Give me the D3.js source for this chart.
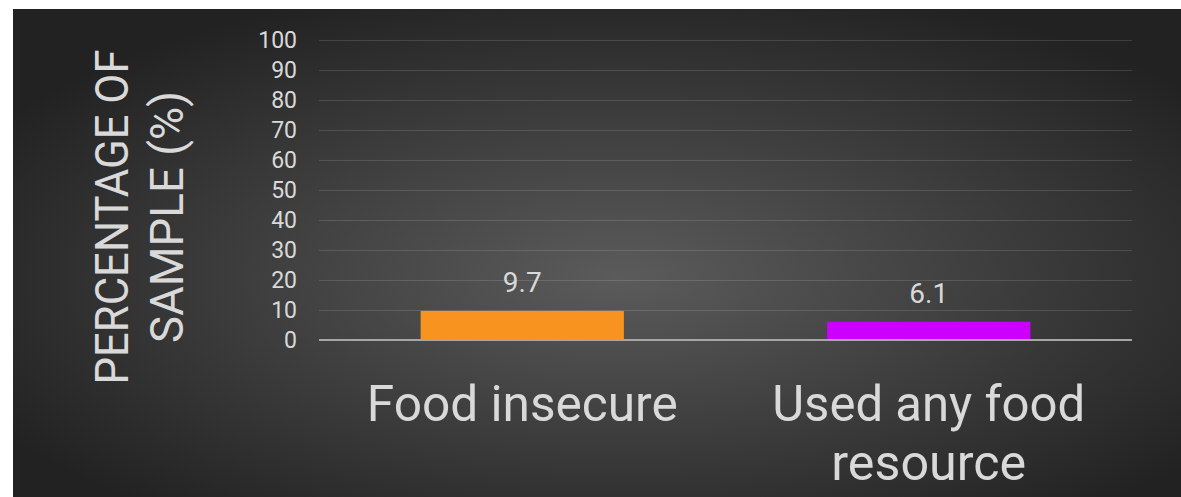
<!DOCTYPE html>
<html>
<head>
<meta charset="utf-8">
<script src="https://cdn.jsdelivr.net/npm/d3@7"></script>
<style>
  html, body { margin: 0; padding: 0; background: #ffffff; }
  svg { display: block; font-family: Roboto, "Open Sans", sans-serif; }
</style>
</head>
<body>
<div id="chart"></div>
<script>
// chart data
const categories = ["Food insecure", "Used any food resource"];
const categoryLines = [["Food insecure"], ["Used any food", "resource"]];
const values = [9.7, 6.1];
const barColors = ["#f7931e", "#cc00ff"];
const yTicks = [0, 10, 20, 30, 40, 50, 60, 70, 80, 90, 100];
const yTitleLines = ["PERCENTAGE OF", "SAMPLE (%)"];

const W = 1181, H = 497;
const textColor = "#d9d9d9";

const svg = d3.select("#chart").append("svg")
    .attr("width", W)
    .attr("height", H);

// background panel with radial gradient
const defs = svg.append("defs");
const grad = defs.append("radialGradient")
    .attr("id", "bg")
    .attr("cx", "52%").attr("cy", "55%")
    .attr("r", "62%");
grad.append("stop").attr("offset", "0%").attr("stop-color", "#5b5b5b");
grad.append("stop").attr("offset", "100%").attr("stop-color", "#222222");

svg.append("rect")
    .attr("x", 13).attr("y", 9)
    .attr("width", W - 13).attr("height", H - 9)
    .attr("fill", "url(#bg)");

const margin = {left: 319, right: 49, top: 40, bottom: 157};

const x = d3.scaleBand()
    .domain(categories)
    .range([margin.left, W - margin.right])
    .paddingInner(0.5)
    .paddingOuter(0.25);

const y = d3.scaleLinear()
    .domain([0, 100])
    .range([H - margin.bottom, margin.top]);

// gridlines
svg.append("g")
  .selectAll("line")
  .data(yTicks.filter(d => d > 0))
  .join("line")
    .attr("x1", margin.left)
    .attr("x2", W - margin.right)
    .attr("y1", d => y(d) + 0.5)
    .attr("y2", d => y(d) + 0.5)
    .attr("stroke", "#ffffff")
    .attr("stroke-opacity", 0.13)
    .attr("stroke-width", 1.2);

// y axis tick labels
const yAxis = svg.append("g")
    .attr("transform", `translate(${margin.left},0)`)
    .call(d3.axisLeft(y).tickValues(yTicks).tickSize(0).tickPadding(22));
yAxis.select(".domain").remove();
yAxis.selectAll("text")
    .attr("fill", textColor)
    .style("font-size", "23px")
    .style("font-family", "Roboto, sans-serif");

// bars
svg.append("g")
  .selectAll("rect")
  .data(values)
  .join("rect")
    .attr("x", (d, i) => x(categories[i]))
    .attr("y", d => y(d))
    .attr("width", x.bandwidth())
    .attr("height", d => y(0) - y(d))
    .attr("fill", (d, i) => barColors[i]);

// baseline
svg.append("line")
    .attr("x1", margin.left)
    .attr("x2", W - margin.right)
    .attr("y1", y(0))
    .attr("y2", y(0))
    .attr("stroke", "#a6a6a6")
    .attr("stroke-width", 2);

// data labels
svg.append("g")
  .selectAll("text")
  .data(values)
  .join("text")
    .attr("x", (d, i) => x(categories[i]) + x.bandwidth() / 2)
    .attr("y", d => y(d) - 19)
    .attr("text-anchor", "middle")
    .attr("fill", textColor)
    .style("font-size", "28px")
    .text(d => d.toFixed(1));

// category labels (widths matched to the original typeface)
const catWidths = [[311], [313, 195]];
const catG = svg.append("g");
categoryLines.forEach((lines, i) => {
  const t = catG.append("text")
      .attr("text-anchor", "middle")
      .attr("fill", textColor)
      .style("font-size", "50px");
  lines.forEach((line, j) => {
    t.append("tspan")
      .attr("x", x(categories[i]) + x.bandwidth() / 2)
      .attr("y", 421 + j * 59)
      .attr("textLength", catWidths[i][j])
      .attr("lengthAdjust", "spacingAndGlyphs")
      .text(line);
  });
});

// y axis title
const titleWidths = [335, 252];
const yTitle = svg.append("text")
    .attr("transform", "translate(0,217) rotate(-90)")
    .attr("text-anchor", "middle")
    .attr("fill", textColor)
    .style("font-size", "46px");
yTitleLines.forEach((line, j) => {
  yTitle.append("tspan")
    .attr("x", 0)
    .attr("y", 128 + j * 55)
    .attr("textLength", titleWidths[j])
    .attr("lengthAdjust", "spacingAndGlyphs")
    .text(line);
});
</script>
</body>
</html>
